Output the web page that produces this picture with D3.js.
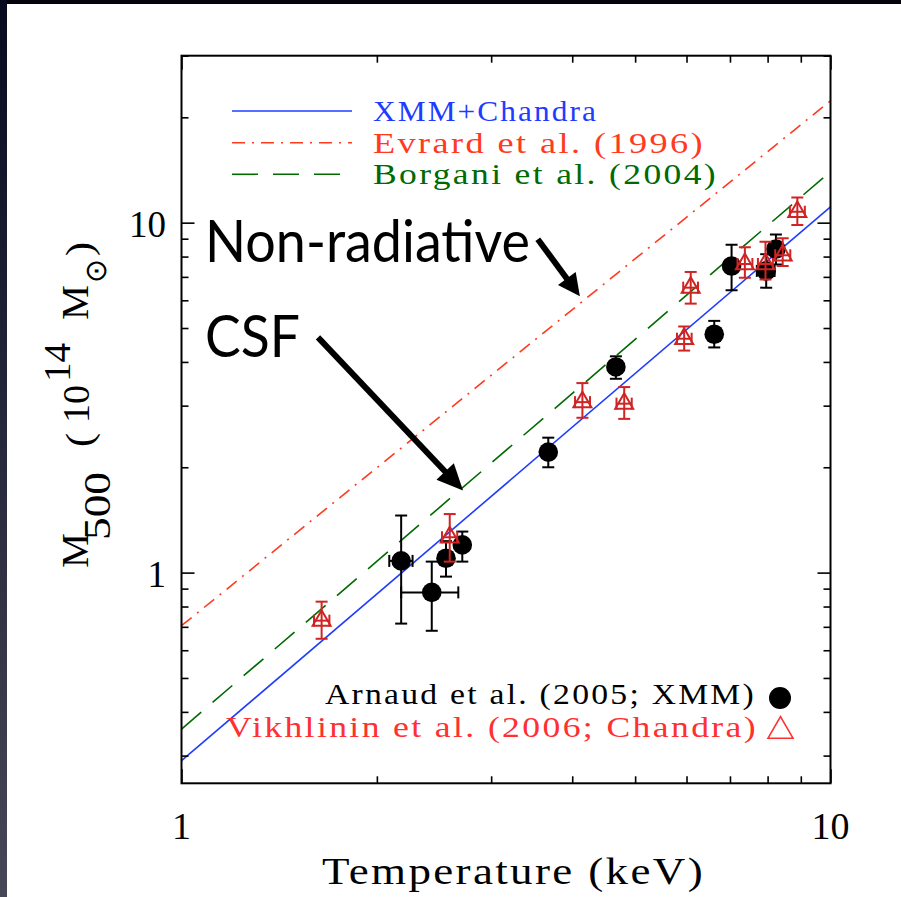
<!DOCTYPE html>
<html><head><meta charset="utf-8">
<script src="https://cdn.jsdelivr.net/npm/d3@7"></script>
<style>html,body{margin:0;padding:0;background:#fff;}svg{display:block}</style>
</head><body><svg id="c" width="901" height="897"></svg>
<script>
// ---------------- DATA ----------------
const xDomain = [1, 10];
const yDomain = [0.25, 30];
const xMajorTicks = [1, 10];
const xMinorTicks = [2, 3, 4, 5, 6, 7, 8, 9];
const yMajorTicks = [1, 10];
const yMinorTicks = [0.3, 0.4, 0.5, 0.6, 0.7, 0.8, 0.9, 2, 3, 4, 5, 6, 7, 8, 9, 20, 30];
const xTickLabels = ["1", "10"];
const yTickLabels = ["1", "10"];

// fit lines: M500 at T = 1 and T = 10 keV
const fitT = [1, 10];
const xmmFit = [0.29, 11.1];
const evrardFit = [0.705, 22.3];
const borganiFit = [0.357, 14.0];

// Arnaud et al. (2005; XMM)
const xmmT    = [2.18, 2.43, 2.556, 2.708, 3.674, 4.67, 6.62, 7.04, 7.96, 8.24];
const xmmTlo  = [2.09, 2.18, 2.556, 2.708, 3.674, 4.67, 6.62, 7.04, 7.70, 8.24];
const xmmThi  = [2.27, 2.67, 2.556, 2.708, 3.674, 4.67, 6.62, 7.04, 8.20, 8.24];
const xmmM    = [1.08, 0.878, 1.099, 1.20, 2.21, 3.87, 4.80, 7.52, 7.28, 8.41];
const xmmMlo  = [0.715, 0.682, 0.974, 1.075, 2.00, 3.58, 4.40, 6.41, 6.52, 7.60];
const xmmMhi  = [1.456, 1.075, 1.23, 1.31, 2.43, 4.15, 5.24, 8.65, 8.13, 9.25];

// Vikhlinin et al. (2006; Chandra)
const chT   = [1.644, 2.59, 4.147, 4.81, 5.95, 6.09, 7.38, 7.94, 8.44, 8.89];
const chTlo = [1.60, 2.52, 4.04, 4.68, 5.80, 5.93, 7.19, 7.73, 8.22, 8.66];
const chThi = [1.69, 2.66, 4.26, 4.94, 6.11, 6.25, 7.58, 8.15, 8.67, 9.13];
const chM   = [0.729, 1.262, 3.07, 3.04, 4.66, 6.52, 7.62, 7.62, 8.07, 10.74];
const chMlo = [0.647, 1.075, 2.77, 2.75, 4.31, 5.87, 6.96, 6.88, 7.52, 9.84];
const chMhi = [0.826, 1.47, 3.48, 3.39, 5.05, 7.23, 8.51, 8.82, 9.03, 11.8];

// annotation arrows (data coords: [T, M] start -> tip)
const arrowNonRad = [[3.54, 8.97], [4.11, 6.16]];
const arrowCSF    = [[1.623, 4.70], [2.715, 1.717]];

const legendLabels = ["XMM+Chandra", "Evrard et al. (1996)", "Borgani et al. (2004)"];
const sampleLabels = ["Arnaud et al. (2005; XMM)", "Vikhlinin et al. (2006; Chandra)"];

// ---------------- STYLE ----------------
const serif = "'Liberation Serif','Times New Roman',serif";
const sans = "Lato,'Open Sans','Noto Sans',sans-serif";
const cBlue = "#1e3cff", cRed = "#ff3a1f", cGreen = "#006a00";
const cTri = "#d02424", cVik = "#ff3030";

const svg = d3.select("#c");
const defs = svg.append("defs");
const lg = defs.append("linearGradient").attr("id", "lb")
  .attr("x1", 0).attr("y1", 0).attr("x2", 0).attr("y2", 1);
lg.append("stop").attr("offset", "0%").attr("stop-color", "#080a20");
lg.append("stop").attr("offset", "100%").attr("stop-color", "#464757");

svg.append("rect").attr("width", 901).attr("height", 897).attr("fill", "#fff");
svg.append("rect").attr("x", 0).attr("y", 0).attr("width", 901).attr("height", 4).attr("fill", "#04040c");
svg.append("rect").attr("x", 0).attr("y", 0).attr("width", 7).attr("height", 897).attr("fill", "url(#lb)");

const L = 181.5, R = 830.5, T = 55.7, B = 783.3;
const x = d3.scaleLog().domain(xDomain).range([L, R]);
const y = d3.scaleLog().domain(yDomain).range([B, T]);

defs.append("clipPath").attr("id", "clip").append("rect")
  .attr("x", L).attr("y", T).attr("width", R - L).attr("height", B - T);

// helper for the wide "Hershey"-like serif text
function hText(sel, txt, xx, yy, fs, len, color) {
  return sel.append("text").attr("x", xx).attr("y", yy).attr("fill", color || "#000")
    .attr("font-family", serif).attr("font-size", fs)
    .style("letter-spacing", "2px")
    .attr("textLength", len).attr("lengthAdjust", "spacingAndGlyphs").text(txt);
}

// ---------------- FIT LINES ----------------
const plot = svg.append("g").attr("clip-path", "url(#clip)");
const line = d3.line().x(d => x(d[0])).y(d => y(d[1]));
const fits = [
  {v: xmmFit, c: cBlue, dash: null},
  {v: evrardFit, c: cRed, dash: "13,7,2,7"},
  {v: borganiFit, c: cGreen, dash: "26,15"}
];
fits.forEach(f => {
  plot.append("path").datum(fitT.map((t, i) => [t, f.v[i]]))
    .attr("d", line).attr("fill", "none").attr("stroke", f.c)
    .attr("stroke-width", 1.6).attr("stroke-dasharray", f.dash);
});

// ---------------- XMM points ----------------
const cap = 6;
const gx = plot.append("g").attr("stroke", "#000").attr("stroke-width", 2);
xmmT.forEach((t, i) => {
  const cx = x(t), cy = y(xmmM[i]);
  const y1 = y(xmmMhi[i]), y2 = y(xmmMlo[i]);
  gx.append("line").attr("x1", cx).attr("x2", cx).attr("y1", y1).attr("y2", y2);
  gx.append("line").attr("x1", cx - cap).attr("x2", cx + cap).attr("y1", y1).attr("y2", y1);
  gx.append("line").attr("x1", cx - cap).attr("x2", cx + cap).attr("y1", y2).attr("y2", y2);
  if (xmmTlo[i] !== xmmThi[i]) {
    const xa = x(xmmTlo[i]), xb = x(xmmThi[i]);
    gx.append("line").attr("x1", xa).attr("x2", xb).attr("y1", cy).attr("y2", cy);
    gx.append("line").attr("x1", xa).attr("x2", xa).attr("y1", cy - cap).attr("y2", cy + cap);
    gx.append("line").attr("x1", xb).attr("x2", xb).attr("y1", cy - cap).attr("y2", cy + cap);
  }
});
plot.append("g").selectAll("circle").data(xmmT).join("circle")
  .attr("cx", d => x(d)).attr("cy", (d, i) => y(xmmM[i])).attr("r", 9.8).attr("fill", "#000");

// ---------------- Chandra points ----------------
const gc = plot.append("g").attr("stroke", cTri).attr("stroke-width", 2).attr("fill", "none");
chT.forEach((t, i) => {
  const cx = x(t), cy = y(chM[i]);
  const y1 = y(chMhi[i]), y2 = y(chMlo[i]);
  gc.append("line").attr("x1", cx).attr("x2", cx).attr("y1", y1).attr("y2", y2);
  gc.append("line").attr("x1", cx - cap).attr("x2", cx + cap).attr("y1", y1).attr("y2", y1);
  gc.append("line").attr("x1", cx - cap).attr("x2", cx + cap).attr("y1", y2).attr("y2", y2);
  const xa = x(chTlo[i]), xb = x(chThi[i]);
  gc.append("line").attr("x1", xa).attr("x2", xb).attr("y1", cy).attr("y2", cy);
  gc.append("line").attr("x1", xa).attr("x2", xa).attr("y1", cy - cap).attr("y2", cy + cap);
  gc.append("line").attr("x1", xb).attr("x2", xb).attr("y1", cy - cap).attr("y2", cy + cap);
  gc.append("path").attr("d", d3.symbol(d3.symbolTriangle, 140)())
    .attr("transform", `translate(${cx},${cy})`);
});

// ---------------- AXES ----------------
function tickAxis(fn, vals, size, tr) {
  const g = svg.append("g").attr("transform", tr)
    .call(fn.tickValues(vals).tickSize(size).tickFormat(""));
  g.select(".domain").remove();
  g.selectAll("line").attr("stroke", "#000").attr("stroke-width", 1.6);
}
tickAxis(d3.axisBottom(x), xMinorTicks, -7, `translate(0,${B})`);
tickAxis(d3.axisBottom(x), xMajorTicks, -14, `translate(0,${B})`);
tickAxis(d3.axisTop(x), xMinorTicks, -7, `translate(0,${T})`);
tickAxis(d3.axisTop(x), xMajorTicks, -14, `translate(0,${T})`);
tickAxis(d3.axisLeft(y), yMinorTicks, -7, `translate(${L},0)`);
tickAxis(d3.axisLeft(y), yMajorTicks, -13, `translate(${L},0)`);
tickAxis(d3.axisRight(y), yMinorTicks, -7, `translate(${R},0)`);
tickAxis(d3.axisRight(y), yMajorTicks, -13, `translate(${R},0)`);

svg.append("rect").attr("x", L).attr("y", T).attr("width", R - L).attr("height", B - T)
  .attr("fill", "none").attr("stroke", "#000").attr("stroke-width", 2);

// tick labels
xMajorTicks.forEach((v, i) => {
  svg.append("text").attr("x", x(v)).attr("y", 839).attr("text-anchor", "middle")
    .attr("font-family", serif).attr("font-size", 38).text(xTickLabels[i]);
});
yMajorTicks.forEach((v, i) => {
  svg.append("text").attr("x", 166).attr("y", y(v) + 14).attr("text-anchor", "end")
    .attr("font-family", serif).attr("font-size", 37).text(yTickLabels[i]);
});

// axis titles
hText(svg, "Temperature (keV)", 322, 884, 38, 383);

const ylab = [
  {t: "M", s: 568, b: 88, len: 35, fs: 38},
  {t: "500", s: 540, b: 110, len: 68, fs: 38},
  {t: "(", s: 447, b: 92, len: 14, fs: 38},
  {t: "10", s: 423, b: 89, len: 38, fs: 38},
  {t: "14", s: 382, b: 70, len: 39, fs: 38},
  {t: "M", s: 320, b: 88, len: 35, fs: 38},
  {t: "\u2299", s: 283, b: 106, len: 24, fs: 30},
  {t: ")", s: 256, b: 92, len: 14, fs: 38}
];
ylab.forEach(p => {
  svg.append("text").attr("transform", `translate(${p.b},${p.s}) rotate(-90)`)
    .attr("font-family", serif).attr("font-size", p.fs)
    .attr("textLength", p.len).attr("lengthAdjust", "spacingAndGlyphs").text(p.t);
});

// ---------------- LEGEND (lines) ----------------
const legY = [111, 142.7, 174.3];
const legEnd = [598, 705, 718];
fits.forEach((f, i) => {
  svg.append("line").attr("x1", 232).attr("x2", 352).attr("y1", legY[i]).attr("y2", legY[i])
    .attr("stroke", f.c).attr("stroke-width", 1.6).attr("stroke-dasharray", f.dash);
  hText(svg, legendLabels[i], 373, legY[i] + 10, 30, legEnd[i] - 373, f.c);
});

// ---------------- LEGEND (samples) ----------------
hText(svg, sampleLabels[0], 325, 704, 30, 756 - 325, "#000");
hText(svg, sampleLabels[1], 226, 737, 30, 758 - 226, cVik);
svg.append("circle").attr("cx", 780).attr("cy", 698).attr("r", 11).attr("fill", "#000");
svg.append("path").attr("d", d3.symbol(d3.symbolTriangle, 270)())
  .attr("transform", "translate(780.5,731)").attr("fill", "none")
  .attr("stroke", cVik).attr("stroke-width", 1.6);

// ---------------- ANNOTATIONS ----------------
svg.append("text").attr("x", 205).attr("y", 262).attr("font-family", sans)
  .attr("font-size", 58).attr("textLength", 325).attr("lengthAdjust", "spacingAndGlyphs")
  .text("Non-radiative");
svg.append("text").attr("x", 205).attr("y", 357).attr("font-family", sans)
  .attr("font-size", 58).attr("textLength", 95).attr("lengthAdjust", "spacingAndGlyphs")
  .text("CSF");

function arrow(a, headLen, headW) {
  const x0 = x(a[0][0]), y0 = y(a[0][1]), x1 = x(a[1][0]), y1 = y(a[1][1]);
  const dx = x1 - x0, dy = y1 - y0, len = Math.hypot(dx, dy);
  const ux = dx / len, uy = dy / len, px = -uy, py = ux;
  const bx = x1 - ux * headLen, by = y1 - uy * headLen;
  svg.append("line").attr("x1", x0).attr("y1", y0).attr("x2", bx + ux * 2).attr("y2", by + uy * 2)
    .attr("stroke", "#000").attr("stroke-width", 6);
  svg.append("path").attr("d",
    `M${x1},${y1}L${bx + px * headW},${by + py * headW}L${bx - px * headW},${by - py * headW}Z`)
    .attr("fill", "#000");
}
arrow(arrowNonRad, 22, 11);
arrow(arrowCSF, 26, 12);
</script></body></html>
